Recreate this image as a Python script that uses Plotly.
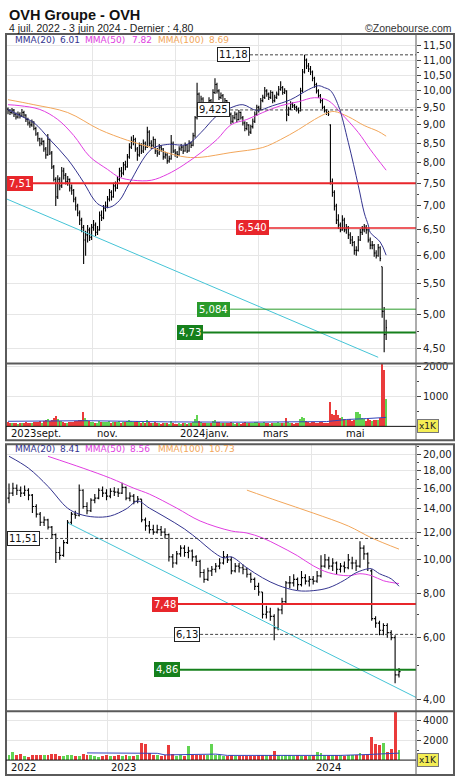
import math
import plotly.graph_objects as go

W, H = 460, 782

# ---------------- top panel : daily bars (early Sept 2023 -> 3 June 2024) ----------------
d_open = [9.45, 9.40, 9.35, 9.42, 9.30, 9.22, 9.30, 9.25, 9.35, 9.28,
          9.15, 9.05, 9.00, 9.08, 8.90, 8.75, 8.62, 8.50, 8.55, 8.35,
          8.20, 8.60, 8.25, 7.90, 7.60, 7.20, 7.60, 7.45, 7.80, 7.70,
          7.55, 7.60, 7.40, 7.35, 7.15, 7.00, 6.85, 6.70, 6.55, 6.30,
          6.40, 6.50, 6.35, 6.55, 6.60, 6.45, 6.50, 6.80, 6.75, 6.95,
          7.00, 7.15, 7.30, 7.20, 7.45, 7.40, 7.60, 7.80, 7.75, 7.95,
          7.90, 8.15, 8.40, 8.55, 8.60, 8.35, 8.20, 8.45, 8.30, 8.50,
          8.40, 8.80, 8.50, 8.45, 8.60, 8.30, 8.25, 8.40, 8.35, 8.15,
          8.20, 8.05, 8.10, 8.50, 8.30, 8.25, 8.20, 8.35, 8.40, 8.30,
          8.45, 8.30, 8.50, 8.45, 8.70, 9.20, 9.90, 9.60, 9.75, 9.50,
          9.40, 9.55, 9.70, 9.60, 9.95, 10.20, 10.00, 9.80, 9.85, 9.60,
          9.70, 9.50, 9.30, 9.10, 9.20, 9.30, 9.15, 9.35, 9.20, 9.05,
          8.90, 9.00, 8.80, 8.95, 9.10, 9.30, 9.50, 9.45, 9.70, 9.80,
          10.00, 9.90, 9.80, 9.95, 9.70, 9.80, 9.90, 10.05, 10.10, 9.95,
          10.00, 9.30, 9.45, 9.60, 9.55, 9.50, 9.45, 9.40, 10.00, 10.60,
          11.00, 10.80, 10.70, 10.60, 10.40, 10.20, 10.00, 9.85, 9.70, 9.50,
          9.40, 9.35, 9.00, 7.55, 7.30, 7.00, 6.70, 6.60, 6.50, 6.70,
          6.50, 6.55, 6.40, 6.30, 6.25, 6.10, 6.10, 6.30, 6.45, 6.50,
          6.55, 6.50, 6.30, 6.20, 6.20, 6.05, 6.00, 6.15, 5.80, 5.05,
          4.70]
d_high = [9.50, 9.45, 9.48, 9.45, 9.35, 9.38, 9.36, 9.45, 9.40, 9.30,
          9.20, 9.12, 9.15, 9.10, 8.95, 8.80, 8.65, 8.65, 8.58, 8.40,
          8.75, 8.62, 8.30, 7.95, 7.65, 7.70, 7.65, 7.90, 7.88, 7.75,
          7.68, 7.62, 7.48, 7.38, 7.20, 7.05, 6.90, 6.75, 6.60, 6.48,
          6.60, 6.55, 6.62, 6.70, 6.65, 6.58, 6.88, 6.90, 7.02, 7.10,
          7.22, 7.38, 7.35, 7.52, 7.55, 7.68, 7.88, 7.90, 8.02, 8.05,
          8.22, 8.50, 8.68, 8.72, 8.65, 8.40, 8.52, 8.50, 8.60, 8.55,
          8.95, 8.85, 8.58, 8.68, 8.62, 8.38, 8.48, 8.45, 8.38, 8.28,
          8.25, 8.18, 8.72, 8.55, 8.35, 8.30, 8.42, 8.48, 8.45, 8.52,
          8.48, 8.58, 8.55, 8.78, 9.25, 10.25, 9.95, 9.85, 9.80, 9.55,
          9.65, 9.80, 9.75, 10.05, 10.40, 10.25, 10.05, 9.95, 9.90, 9.78,
          9.72, 9.55, 9.35, 9.28, 9.38, 9.35, 9.42, 9.38, 9.25, 9.10,
          9.08, 9.02, 9.00, 9.18, 9.38, 9.58, 9.55, 9.78, 9.88, 10.12,
          10.05, 9.95, 10.02, 9.98, 9.88, 9.98, 10.15, 10.30, 10.15, 10.08,
          10.02, 9.52, 9.68, 9.65, 9.60, 9.55, 9.50, 10.10, 10.70, 11.18,
          11.05, 10.90, 10.80, 10.65, 10.45, 10.25, 10.05, 9.90, 9.75, 9.55,
          9.45, 9.40, 9.02, 7.62, 7.35, 7.05, 6.82, 6.65, 6.80, 6.75,
          6.62, 6.58, 6.45, 6.38, 6.28, 6.18, 6.38, 6.52, 6.58, 6.62,
          6.60, 6.52, 6.35, 6.28, 6.22, 6.10, 6.22, 6.18, 5.80, 5.12,
          4.92]
d_low = [9.30, 9.28, 9.30, 9.22, 9.15, 9.18, 9.18, 9.22, 9.20, 9.08,
         8.98, 8.92, 8.95, 8.85, 8.70, 8.55, 8.42, 8.45, 8.28, 8.10,
         8.18, 8.20, 7.85, 7.55, 7.00, 7.15, 7.35, 7.40, 7.60, 7.48,
         7.45, 7.32, 7.25, 7.08, 6.90, 6.78, 6.60, 6.45, 5.85, 6.00,
         6.25, 6.28, 6.30, 6.48, 6.38, 6.40, 6.48, 6.68, 6.72, 6.88,
         6.95, 7.10, 7.12, 7.18, 7.32, 7.38, 7.55, 7.65, 7.70, 7.82,
         7.88, 8.10, 8.35, 8.45, 8.28, 8.05, 8.15, 8.22, 8.25, 8.32,
         8.38, 8.42, 8.35, 8.40, 8.22, 8.15, 8.20, 8.28, 8.08, 8.10,
         7.98, 8.00, 8.08, 8.25, 8.15, 8.12, 8.18, 8.30, 8.22, 8.28,
         8.25, 8.28, 8.38, 8.42, 8.65, 9.15, 9.50, 9.55, 9.42, 9.30,
         9.35, 9.50, 9.50, 9.58, 9.90, 9.92, 9.72, 9.75, 9.55, 9.55,
         9.45, 9.25, 9.02, 9.05, 9.15, 9.08, 9.12, 9.15, 8.98, 8.82,
         8.85, 8.70, 8.75, 8.90, 9.05, 9.25, 9.35, 9.42, 9.65, 9.75,
         9.82, 9.72, 9.75, 9.62, 9.65, 9.75, 9.85, 10.00, 9.88, 9.90,
         9.10, 9.25, 9.42, 9.48, 9.42, 9.38, 9.32, 9.38, 9.95, 10.55,
         10.70, 10.60, 10.50, 10.30, 10.10, 9.92, 9.78, 9.62, 9.45, 9.35,
         9.28, 9.25, 7.48, 7.20, 6.90, 6.62, 6.52, 6.45, 6.48, 6.45,
         6.42, 6.32, 6.22, 6.18, 6.02, 6.00, 6.08, 6.28, 6.40, 6.45,
         6.42, 6.25, 6.12, 6.12, 5.98, 5.95, 5.98, 5.90, 4.95, 4.45,
         4.62]
d_close = [9.40, 9.35, 9.42, 9.30, 9.22, 9.30, 9.25, 9.35, 9.28, 9.15,
           9.05, 9.00, 9.08, 8.90, 8.75, 8.62, 8.50, 8.55, 8.35, 8.20,
           8.60, 8.25, 7.90, 7.60, 7.20, 7.60, 7.45, 7.80, 7.70, 7.55,
           7.60, 7.40, 7.35, 7.15, 7.00, 6.85, 6.70, 6.55, 6.30, 6.40,
           6.50, 6.35, 6.55, 6.60, 6.45, 6.50, 6.80, 6.75, 6.95, 7.00,
           7.15, 7.30, 7.20, 7.45, 7.40, 7.60, 7.80, 7.75, 7.95, 7.90,
           8.15, 8.40, 8.55, 8.60, 8.35, 8.20, 8.45, 8.30, 8.50, 8.40,
           8.80, 8.50, 8.45, 8.60, 8.30, 8.25, 8.40, 8.35, 8.15, 8.20,
           8.05, 8.10, 8.50, 8.30, 8.25, 8.20, 8.35, 8.40, 8.30, 8.45,
           8.30, 8.50, 8.45, 8.70, 9.20, 9.90, 9.60, 9.75, 9.50, 9.40,
           9.55, 9.70, 9.60, 9.95, 10.20, 10.00, 9.80, 9.85, 9.60, 9.70,
           9.50, 9.30, 9.10, 9.20, 9.30, 9.15, 9.35, 9.20, 9.05, 8.90,
           9.00, 8.80, 8.95, 9.10, 9.30, 9.50, 9.45, 9.70, 9.80, 10.00,
           9.90, 9.80, 9.95, 9.70, 9.80, 9.90, 10.05, 10.10, 9.95, 10.00,
           9.30, 9.45, 9.60, 9.55, 9.50, 9.45, 9.40, 10.00, 10.60, 11.00,
           10.80, 10.70, 10.60, 10.40, 10.20, 10.00, 9.85, 9.70, 9.50, 9.40,
           9.35, 9.30, 7.50, 7.30, 7.00, 6.70, 6.60, 6.50, 6.70, 6.50,
           6.55, 6.40, 6.30, 6.25, 6.10, 6.10, 6.30, 6.45, 6.50, 6.55,
           6.50, 6.30, 6.20, 6.20, 6.05, 6.00, 6.15, 5.95, 5.05, 4.70,
           4.80]
d_vol = [150, 120, 110, 140, 130, 100, 120, 110, 130, 160,
         140, 120, 110, 150, 170, 160, 180, 120, 200, 220,
         260, 180, 240, 280, 350, 260, 180, 200, 150, 140,
         130, 160, 150, 170, 190, 200, 210, 230, 500, 300,
         220, 180, 160, 150, 140, 130, 200, 160, 170, 150,
         160, 180, 140, 170, 150, 160, 190, 140, 170, 150,
         180, 230, 200, 170, 160, 180, 150, 140, 160, 130,
         220, 170, 130, 120, 150, 130, 110, 100, 120, 110,
         130, 100, 180, 130, 90, 80, 110, 100, 120, 110,
         100, 130, 110, 160, 250, 380, 200, 150, 140, 130,
         120, 140, 110, 180, 220, 160, 150, 120, 130, 110,
         120, 140, 160, 110, 100, 120, 110, 100, 130, 150,
         110, 140, 120, 130, 150, 160, 110, 140, 130, 170,
         120, 110, 100, 130, 110, 120, 150, 140, 120, 110,
         300, 160, 130, 110, 100, 110, 120, 260, 320, 280,
         180, 150, 140, 160, 150, 140, 130, 150, 160, 140,
         130, 120, 820, 430, 380, 570, 400, 280, 320, 260,
         220, 240, 260, 200, 230, 480, 510, 420, 300, 250,
         200, 260, 220, 180, 240, 210, 230, 300, 3200, 1900,
         930]

# moving averages (bar index, value)
t_ma20_i = [0, 6, 13, 21, 30, 38, 43, 46, 51, 56, 61, 72, 80, 90, 97, 105, 112, 118, 125, 133,
            142, 151, 156, 159, 162, 166, 171, 176, 179, 181, 182, 187, 190]
t_ma20_v = [9.44, 9.26, 9.06, 8.60, 8.09, 7.53, 7.15, 7.02, 6.97, 7.12, 7.51, 8.34, 8.47, 8.47,
            8.79, 9.26, 9.49, 9.58, 9.41, 9.55, 9.73, 10.04, 10.16, 10.10, 10.01, 9.55, 8.52,
            7.46, 6.85, 6.60, 6.45, 6.26, 6.01]
t_ma50_i = [0, 6, 16, 25, 33, 41, 50, 56, 63, 72, 80, 88, 97, 105, 112, 120, 128, 137, 146, 154,
            161, 167, 176, 182, 190]
t_ma50_v = [9.58, 9.55, 9.44, 9.15, 8.71, 8.16, 7.84, 7.65, 7.58, 7.58, 7.72, 7.94, 8.26, 8.60,
            9.00, 9.15, 9.35, 9.55, 9.67, 9.79, 9.70, 9.35, 8.79, 8.34, 7.82]
t_ma100_i = [0, 13, 30, 46, 60, 72, 83, 90, 97, 112, 128, 137, 146, 154, 161, 164, 171, 179, 186, 190]
t_ma100_v = [9.73, 9.58, 9.35, 8.87, 8.58, 8.39, 8.21, 8.14, 8.14, 8.26, 8.39, 8.60, 8.87, 9.15,
             9.35, 9.38, 9.23, 8.98, 8.82, 8.69]
t_vma_i = [0, 40, 80, 120, 160, 170, 180, 190]
t_vma_v = [170, 190, 150, 140, 160, 230, 260, 300]

t_month_pos = [-0.5, 42.7, 84.4, 126.1, 167.8]
t_month_lab = ["2023sept.", "nov.", "2024janv.", "mars", "mai"]
t_ticks = [4.5, 5.0, 5.5, 6.0, 6.5, 7.0, 7.5, 8.0, 8.5, 9.0, 9.5, 10.0, 10.5, 11.0, 11.5]
t_trend_i = [-0.5, 186]
t_trend_v = [7.15, 4.38]

# ---------------- bottom panel : weekly bars (4 July 2022 -> 3 June 2024) ----------------
w_open = [15.0, 15.5, 16.0, 15.8, 15.5, 15.8, 15.3, 14.2, 13.5, 12.8,
          13.0, 12.4, 11.8, 10.5, 10.3, 11.2, 12.8, 13.5, 13.4, 15.8,
          14.2, 13.8, 14.8, 15.0, 15.8, 15.5, 15.2, 15.7, 15.6, 15.5,
          16.1, 15.0, 15.2, 14.7, 14.9, 13.0, 12.5, 12.2, 12.0, 12.2,
          12.0, 11.8, 10.2, 9.8, 10.4, 10.8, 10.5, 10.6, 10.2, 9.9,
          9.2, 8.8, 9.3, 9.4, 9.6, 9.8, 10.2, 10.0, 9.3, 9.6,
          9.5, 9.4, 9.1, 8.8, 8.4, 8.1, 7.0, 7.1, 6.9, 6.4,
          7.2, 7.6, 8.6, 8.6, 8.8, 8.5, 8.9, 8.7, 8.8, 8.7,
          9.0, 9.6, 10.0, 9.6, 9.8, 9.4, 9.6, 9.5, 9.8, 9.8,
          9.6, 10.8, 10.4, 9.3, 6.8, 6.6, 6.3, 6.5, 6.2, 6.0,
          4.7]
w_high = [16.5, 16.6, 16.4, 16.2, 16.3, 16.0, 15.4, 14.4, 13.7, 13.3,
          13.1, 12.5, 11.9, 10.9, 11.4, 13.0, 13.7, 13.8, 16.4, 15.9,
          14.6, 15.0, 15.4, 16.0, 16.2, 15.9, 16.0, 16.1, 16.0, 16.6,
          16.2, 15.6, 15.4, 15.2, 14.9, 13.2, 12.9, 12.6, 12.6, 12.5,
          12.3, 11.9, 10.4, 10.6, 11.0, 11.0, 10.9, 10.7, 10.3, 10.0,
          9.4, 9.5, 9.6, 9.8, 10.1, 10.6, 10.4, 10.2, 9.8, 9.8,
          9.7, 9.5, 9.2, 8.9, 8.6, 8.1, 7.4, 7.3, 7.0, 7.3,
          7.8, 8.7, 9.0, 9.1, 8.9, 9.3, 9.1, 9.0, 9.0, 9.3,
          10.3, 10.4, 10.2, 10.1, 9.9, 9.8, 9.9, 10.4, 10.2, 10.0,
          11.3, 11.0, 10.5, 9.4, 6.9, 6.7, 6.6, 6.6, 6.3, 6.1,
          4.92]
w_low = [14.5, 15.2, 15.3, 15.1, 15.2, 14.8, 13.6, 13.2, 12.5, 12.5,
         12.2, 11.5, 9.8, 10.0, 10.2, 11.1, 12.6, 13.1, 13.3, 14.0,
         13.5, 13.7, 14.5, 14.9, 15.1, 14.8, 15.0, 15.2, 15.1, 15.4,
         14.8, 14.7, 14.4, 14.5, 12.8, 12.1, 11.9, 11.8, 11.9, 11.7,
         11.5, 9.9, 9.5, 9.7, 10.2, 10.2, 10.1, 9.9, 9.6, 8.9,
         8.6, 8.7, 9.0, 9.2, 9.4, 9.7, 9.8, 9.1, 9.2, 9.2,
         9.1, 8.9, 8.6, 8.2, 7.9, 6.8, 6.8, 6.7, 5.9, 6.3,
         7.0, 7.5, 8.3, 8.4, 8.2, 8.4, 8.5, 8.4, 8.5, 8.6,
         8.9, 9.5, 9.4, 9.3, 9.1, 9.2, 9.2, 9.4, 9.4, 9.3,
         9.5, 10.0, 9.3, 6.7, 6.4, 6.1, 6.1, 6.0, 5.9, 4.45,
         4.62]
w_close = [15.5, 16.0, 15.8, 15.5, 15.8, 15.3, 14.2, 13.5, 12.8, 13.0,
           12.4, 11.8, 10.5, 10.3, 11.2, 12.8, 13.5, 13.4, 15.8, 14.2,
           13.8, 14.8, 15.0, 15.8, 15.5, 15.2, 15.7, 15.6, 15.5, 16.1,
           15.0, 15.2, 14.7, 14.9, 13.0, 12.5, 12.2, 12.0, 12.2, 12.0,
           11.8, 10.2, 9.8, 10.4, 10.8, 10.5, 10.6, 10.2, 9.9, 9.2,
           8.8, 9.3, 9.4, 9.6, 9.8, 10.2, 10.0, 9.3, 9.6, 9.5,
           9.4, 9.1, 8.8, 8.4, 8.1, 7.0, 7.1, 6.9, 6.4, 7.2,
           7.6, 8.6, 8.6, 8.8, 8.5, 8.9, 8.7, 8.8, 8.7, 9.0,
           9.6, 10.0, 9.6, 9.8, 9.4, 9.6, 9.5, 10.0, 9.8, 9.6,
           10.8, 10.4, 9.8, 6.8, 6.6, 6.3, 6.5, 6.2, 6.0, 4.7,
           4.8]
w_vol = [500, 750, 450, 550, 380, 300, 450, 480, 450, 500,
         520, 560, 600, 420, 350, 480, 500, 420, 420, 550,
         520, 480, 350, 320, 400, 450, 420, 380, 460, 400,
         480, 420, 380, 500, 1650, 1550, 700, 450, 500, 420,
         480, 1500, 600, 420, 450, 420, 1400, 480, 450, 520,
         480, 450, 1600, 500, 450, 380, 420, 450, 380, 350,
         380, 350, 420, 400, 450, 500, 450, 450, 900, 450,
         420, 480, 450, 420, 480, 400, 380, 420, 480, 800,
         650, 500, 450, 520, 480, 500, 420, 450, 500, 520,
         700, 500, 600, 2300, 1600, 1500, 1700, 800, 1100, 4900,
         1000]

b_ma20_w = [0, 5, 10, 15, 18, 22, 26, 30, 33, 36, 40, 45, 49, 52, 55, 57, 61, 65, 69, 74, 78,
            82, 86, 89, 92, 93, 95, 98, 100]
b_ma20_v = [19.74, 18.26, 16.2, 14.05, 13.51, 13.25, 13.34, 13.96, 14.71, 14.05, 13.25, 12.25,
            11.32, 10.61, 10.13, 10.20, 9.49, 8.89, 8.46, 8.17, 8.17, 8.33, 8.75, 9.19, 9.43,
            9.43, 9.13, 8.83, 8.41]
b_ma50_w = [10, 19, 26, 32, 36, 43, 49, 57, 61, 65, 69, 74, 78, 82, 87, 90, 93, 96, 100]
b_ma50_v = [19.74, 18.26, 17.10, 16.01, 15.40, 14.05, 12.91, 12.09, 11.93, 11.55, 11.0, 10.27,
            9.62, 9.19, 9.01, 9.13, 9.01, 8.72, 8.56]
b_ma100_w = [61, 69, 78, 87, 93, 100]
b_ma100_v = [15.81, 14.71, 13.60, 12.49, 11.55, 10.73]
b_vma_w = [20, 30, 38, 40, 50, 53, 56, 70, 85, 92, 96, 100]
b_vma_v = [720, 700, 680, 520, 560, 600, 470, 440, 470, 560, 650, 700]

b_year_pos = [-0.5, 25.13, 77.69]
b_year_lab = ["2022", "2023", "2024"]
b_ticks = [4, 6, 8, 10, 12, 14, 16, 18, 20]
b_trend_w = [15.1, 104.4]
b_trend_v = [12.74, 4.05]

# ---------------- helpers ----------------
def py(p):  # pixel row -> paper y
    return 1 - p / H

def pxx(p):
    return p / W

NAVY, MAG, ORG = "#34348f", "#e03ee0", "#f2a65a"
RED, GRN, DGRN = "#e8262b", "#2a9a2a", "#16801c"
VRED, VGRN = "#ea3b3b", "#62d452"
FONT = "DejaVu Sans"

d_idx = list(range(len(d_close)))
w_idx = list(range(len(w_close)))
t_right = 205.0
b_right = 104.36

fig = go.Figure()

# top price
fig.add_trace(go.Ohlc(x=d_idx, open=d_open, high=d_high, low=d_low, close=d_close,
                      increasing_line_color="#000", decreasing_line_color="#000",
                      line_width=1.1, tickwidth=0.45, xaxis="x", yaxis="y", hoverinfo="skip"))
fig.add_trace(go.Scatter(x=t_trend_i, y=t_trend_v, mode="lines", line=dict(color="#45c4d6", width=1),
                         xaxis="x", yaxis="y"))
fig.add_trace(go.Scatter(x=t_ma100_i, y=t_ma100_v, mode="lines", line=dict(color=ORG, width=1, shape="spline"),
                         xaxis="x", yaxis="y"))
fig.add_trace(go.Scatter(x=t_ma50_i, y=t_ma50_v, mode="lines", line=dict(color=MAG, width=1, shape="spline"),
                         xaxis="x", yaxis="y"))
fig.add_trace(go.Scatter(x=t_ma20_i, y=t_ma20_v, mode="lines", line=dict(color=NAVY, width=1, shape="spline"),
                         xaxis="x", yaxis="y"))

# top level lines: (value, start index, colour, width, dash)
t_levels = [(11.18, 121.6, "#444", 1, "3px,2px"), (9.425, 111.6, "#444", 1, "3px,2px"),
            (7.51, -0.5, RED, 2, "solid"), (6.54, 131.0, RED, 1.5, "solid"),
            (5.084, 111.6, GRN, 1, "solid"), (4.73, 98.0, DGRN, 2, "solid")]
for v, x0, c, wd, ds in t_levels:
    fig.add_trace(go.Scatter(x=[x0, t_right], y=[v, v], mode="lines",
                             line=dict(color=c, width=wd, dash=ds), xaxis="x", yaxis="y"))

# top volume
t_vcol = [VGRN if c >= o else VRED for o, c in zip(d_open, d_close)]
fig.add_trace(go.Bar(x=d_idx, y=d_vol, marker=dict(color=t_vcol, line_width=0), width=0.75,
                     xaxis="x2", yaxis="y2"))
fig.add_trace(go.Scatter(x=t_vma_i, y=t_vma_v, mode="lines", line=dict(color="#3344bb", width=1),
                         xaxis="x2", yaxis="y2"))

# bottom price
fig.add_trace(go.Ohlc(x=w_idx, open=w_open, high=w_high, low=w_low, close=w_close,
                      increasing_line_color="#000", decreasing_line_color="#000",
                      line_width=1.1, tickwidth=0.4, xaxis="x3", yaxis="y3", hoverinfo="skip"))
fig.add_trace(go.Scatter(x=b_trend_w, y=b_trend_v, mode="lines", line=dict(color="#45c4d6", width=1),
                         xaxis="x3", yaxis="y3"))
fig.add_trace(go.Scatter(x=b_ma100_w, y=b_ma100_v, mode="lines", line=dict(color=ORG, width=1, shape="spline"),
                         xaxis="x3", yaxis="y3"))
fig.add_trace(go.Scatter(x=b_ma50_w, y=b_ma50_v, mode="lines", line=dict(color=MAG, width=1, shape="spline"),
                         xaxis="x3", yaxis="y3"))
fig.add_trace(go.Scatter(x=b_ma20_w, y=b_ma20_v, mode="lines", line=dict(color=NAVY, width=1, shape="spline"),
                         xaxis="x3", yaxis="y3"))
b_levels = [(11.51, 6.7, "#444", 1, "3px,2px"), (7.48, 43.3, RED, 2, "solid"),
            (6.13, 49.0, "#444", 1, "3px,2px"), (4.86, 43.8, DGRN, 2, "solid")]
for v, x0, c, wd, ds in b_levels:
    fig.add_trace(go.Scatter(x=[x0, b_right], y=[v, v], mode="lines",
                             line=dict(color=c, width=wd, dash=ds), xaxis="x3", yaxis="y3"))

# bottom volume
b_vcol = [VGRN if c >= o else VRED for o, c in zip(w_open, w_close)]
fig.add_trace(go.Bar(x=w_idx, y=w_vol, marker=dict(color=b_vcol, line_width=0), width=0.75,
                     xaxis="x4", yaxis="y4"))
fig.add_trace(go.Scatter(x=b_vma_w, y=b_vma_v, mode="lines", line=dict(color="#3344bb", width=1),
                         xaxis="x4", yaxis="y4"))

# ---------------- axes ----------------
GRID = "#e6e6e6"
xdom = [pxx(7), pxx(416)]
tick_font = dict(family=FONT, size=10, color="#222")

def fmt(v, d=2):
    return f"{v:.{d}f}".replace(".", ",")

xcommon = dict(domain=xdom, showticklabels=False, ticks="", showline=False, zeroline=False,
               showgrid=True, gridcolor=GRID, gridwidth=1, tickmode="array", fixedrange=True,
               rangeslider=dict(visible=False))
layout = dict(
    width=W, height=H, margin=dict(l=0, r=0, t=0, b=0),
    paper_bgcolor="white", plot_bgcolor="white", showlegend=False, bargap=0,
    xaxis=dict(xcommon, range=[-0.5, t_right], tickvals=t_month_pos[1:], anchor="y"),
    xaxis2=dict(xcommon, range=[-0.5, t_right], tickvals=t_month_pos[1:], anchor="y2"),
    xaxis3=dict(xcommon, range=[-0.513, b_right], tickvals=b_year_pos[1:], anchor="y3"),
    xaxis4=dict(xcommon, range=[-0.513, b_right], tickvals=b_year_pos[1:], anchor="y4"),
    yaxis=dict(domain=[py(362), py(31)], type="log", range=[math.log10(4.295), math.log10(11.93)],
               side="right", anchor="x", tickmode="array", tickvals=t_ticks,
               ticktext=[fmt(v) for v in t_ticks], ticks="outside", ticklen=4, tickcolor="#444",
               tickfont=tick_font, showgrid=True, gridcolor=GRID, zeroline=False, showline=False,
               minor=dict(tickmode="array", tickvals=[v + 0.25 for v in t_ticks[:-1]],
                          ticks="outside", ticklen=2, tickcolor="#444", showgrid=False)),
    yaxis2=dict(domain=[py(425), py(362)], range=[0, 2100], side="right", anchor="x2",
                tickmode="array", tickvals=[1000, 2000], ticktext=["1000", "2000"],
                ticks="outside", ticklen=4, tickcolor="#444", tickfont=tick_font,
                showgrid=True, gridcolor=GRID, zeroline=False, showline=False,
                minor=dict(tickmode="array", tickvals=[500, 1500], ticks="outside", ticklen=2,
                           tickcolor="#444", showgrid=False)),
    yaxis3=dict(domain=[py(711), py(443)], type="log", range=[math.log10(3.70), math.log10(21.36)],
                side="right", anchor="x3", tickmode="array", tickvals=b_ticks,
                ticktext=[fmt(v) for v in b_ticks], ticks="outside", ticklen=4, tickcolor="#444",
                tickfont=tick_font, showgrid=True, gridcolor=GRID, zeroline=False, showline=False,
                minor=dict(tickmode="array", tickvals=[5, 7, 9, 11, 13, 15, 17, 19, 21],
                           ticks="outside", ticklen=2, tickcolor="#444", showgrid=False)),
    yaxis4=dict(domain=[py(760), py(711)], range=[0, 4900], side="right", anchor="x4",
                tickmode="array", tickvals=[2000, 4000], ticktext=["2000", "4000"],
                ticks="outside", ticklen=4, tickcolor="#444", tickfont=tick_font,
                showgrid=True, gridcolor=GRID, zeroline=False, showline=False,
                minor=dict(tickmode="array", tickvals=[1000, 3000], ticks="outside", ticklen=2,
                           tickcolor="#444", showgrid=False)),
)
fig.update_layout(**layout)

# ---------------- frames / separators ----------------
FR = "#5a5a5a"
shapes = []
def line(x0, y0, x1, y1, c=FR, w=1):
    shapes.append(dict(type="line", xref="paper", yref="paper", x0=pxx(x0), x1=pxx(x1),
                       y0=py(y0), y1=py(y1), line=dict(color=c, width=w)))
for top, sep, base, bot in [(31, 362, 425, 439), (443, 711, 760, 775)]:
    shapes.append(dict(type="rect", xref="paper", yref="paper", x0=pxx(6), x1=pxx(454),
                       y0=py(bot), y1=py(top), line=dict(color=FR, width=2)))
    line(416, top, 416, bot, FR, 1)
    line(6, sep, 454, sep, FR, 2)
    line(6, base, 416, base, "#111", 1)
fig.update_layout(shapes=shapes)

# ---------------- texts ----------------
ann = []
def text(x, y, s, color="#222", size=10, family=FONT, xanchor="left", xref="paper", yref="paper",
         bg=None, border=None, xshift=0, bold=False):
    d = dict(x=x, y=y, xref=xref, yref=yref, text=f"<b>{s}</b>" if bold else s, showarrow=False,
             xanchor=xanchor, yanchor="middle", xshift=xshift,
             font=dict(family=family, size=size, color=color))
    if bg:
        d.update(bgcolor=bg, borderpad=1)
    if border:
        d.update(bordercolor=border, borderwidth=1)
    ann.append(d)

text(pxx(7), py(12), "OVH Groupe - OVH", "#111", 14.5, "Liberation Sans", bold=True)
text(pxx(7), py(25), "4 juil. 2022 - 3 juin 2024 - Dernier : 4,80", "#222", 10.5, "Liberation Sans")
text(pxx(454), py(25), "©Zonebourse.com", "#333", 10.5, "Liberation Sans", xanchor="right")

for y0, items in [(37, [("MMA(20)", 13, NAVY), ("6.01", 58, NAVY), ("MMA(50)", 83, MAG), ("7.82", 130, MAG),
                        ("MMA(100)", 156, ORG), ("8.69", 207, ORG)]),
                  (448, [("MMA(20)", 13, NAVY), ("8.41", 58, NAVY), ("MMA(50)", 83, MAG), ("8.56", 128, MAG),
                         ("MMA(100)", 156, ORG), ("10.73", 207, ORG)])]:
    for s, xp, c in items:
        text(pxx(xp), py(y0), s, c, 9)

for pos, lab in zip(t_month_pos, t_month_lab):
    text(pos, py(432), lab, "#111", 10, xref="x", xshift=2)
for pos, lab in zip(b_year_pos, b_year_lab):
    text(pos, py(767.5), lab, "#111", 10, xref="x3", xshift=2)

# level labels
for v, x0, lab, bg, fc, ya, xa in [
        (11.18, 121.6, "11,18", "white", "#111", "y", "x"),
        (9.425, 111.6, "9,425", "white", "#111", "y", "x"),
        (6.54, 131.0, "6,540", RED, "white", "y", "x"),
        (5.084, 111.6, "5,084", GRN, "white", "y", "x"),
        (4.73, 98.0, "4,73", DGRN, "white", "y", "x"),
        (7.48, 43.3, "7,48", RED, "white", "y3", "x3"),
        (6.13, 49.0, "6,13", "white", "#111", "y3", "x3"),
        (4.86, 43.8, "4,86", DGRN, "white", "y3", "x3")]:
    text(x0, math.log10(v), lab, fc, 10, xanchor="right", xref=xa, yref=ya, bg=bg,
         border="#222" if bg == "white" else bg)
text(-0.5, math.log10(7.51), "7,51", "white", 10, xanchor="left", xref="x", yref="y", bg=RED, border=RED)
text(-0.513, math.log10(11.51), "11,51", "#111", 10, xanchor="left", xref="x3", yref="y3", bg="white",
     border="#222")

for yb in (424.5, 759.5):
    text(pxx(417), py(yb), "x1K", "#222", 9, bg="#f4ee55", border="#777")

fig.update_layout(annotations=ann)
fig.write_html("out.html")
